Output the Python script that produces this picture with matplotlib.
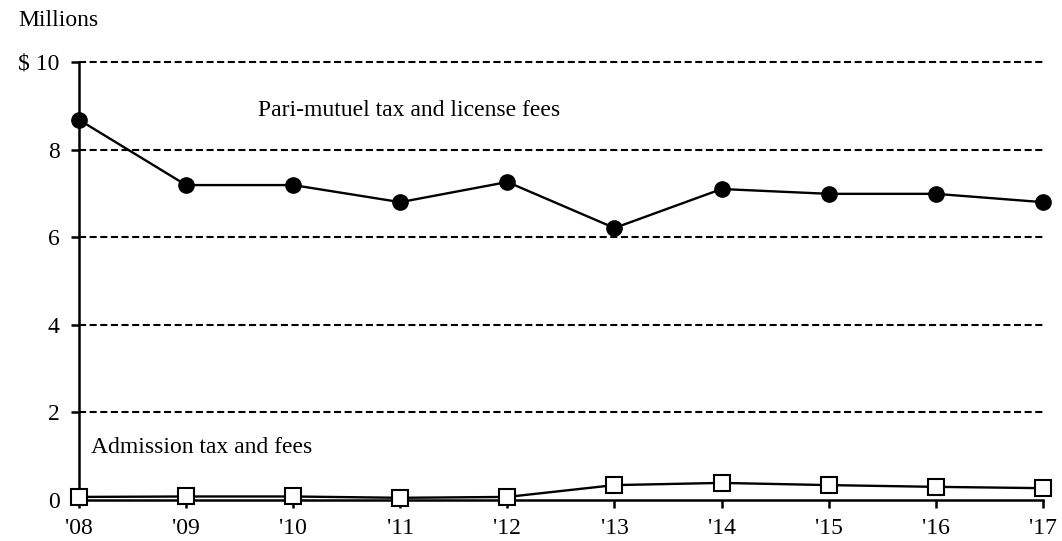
import numpy as np
import matplotlib.pyplot as plt

years = ["'08", "'09", "'10", "'11", "'12", "'13", "'14", "'15", "'16", "'17"]
parimutuel = [8.68, 7.19, 7.19, 6.80, 7.26, 6.21, 7.10, 6.99, 6.99, 6.80]
admission = [0.07, 0.08, 0.08, 0.05, 0.07, 0.34, 0.39, 0.34, 0.30, 0.27]
yticks = [0, 2, 4, 6, 8, 10]
ytick_labels = ['0', '2', '4', '6', '8', '$ 10']

plt.rcParams['font.family'] = 'Liberation Serif'
plt.rcParams['font.size'] = 17

fig = plt.figure(figsize=(10.62, 5.41), dpi=100)
ax = fig.add_axes([0.0744, 0.0758, 0.9076, 0.8096])

x = np.arange(len(years))

# dashed horizontal gridlines
for v in yticks[1:]:
    ax.axhline(v, color='black', linestyle=(0, (3.4, 1.7)), linewidth=1.5,
               zorder=1, clip_on=False)

ax.plot(x, parimutuel, color='black', linewidth=1.7, marker='o', markersize=11,
        markerfacecolor='black', clip_on=False, zorder=3)
ax.plot(x, admission, color='black', linewidth=1.7, marker='s', markersize=12,
        markerfacecolor='white', markeredgecolor='black', markeredgewidth=1.5,
        clip_on=False, zorder=3)

ax.set_xlim(0, 9)
ax.set_ylim(0, 10)
ax.set_xticks(x)
ax.set_xticklabels(years)
ax.set_yticks(yticks)
ax.set_yticklabels(ytick_labels)

for side in ['top', 'right']:
    ax.spines[side].set_visible(False)
for side in ['left', 'bottom']:
    ax.spines[side].set_linewidth(1.8)
ax.tick_params(axis='both', direction='out', length=6, width=1.8, colors='black')
ax.tick_params(axis='x', pad=7)
ax.tick_params(axis='y', pad=8)

ax.text(1.67, 8.9, 'Pari-mutuel tax and license fees', va='center', ha='left')
ax.text(0.11, 1.19, 'Admission tax and fees', va='center', ha='left')
fig.text(18 / 1062, 1 - 20 / 541, 'Millions', va='center', ha='left')

fig.savefig('out.png', dpi=100)
